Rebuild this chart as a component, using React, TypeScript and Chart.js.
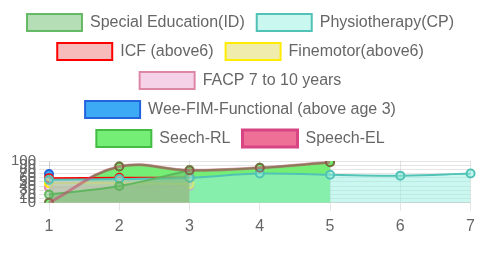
import React, { useEffect, useRef } from "react";
import { Chart, registerables } from "chart.js";

Chart.register(...registerables);

const categories = ["1", "2", "3", "4", "5", "6", "7"];
const specialEducation = [20, 40, 78];
const physiotherapy = [55, 57, 60, 70, 67, 65, 70];
const icf = [59, 60, 60];
const finemotor = [47, 47, 45];
const facp = [37, 38, 40];
const weeFim = [69];
const seechRL = [0, 87, 78, 84, 97];
const speechEL = [0, 87, 78, 84, 97];

const FONT = "Liberation Sans, Arial, sans-serif";

export default function App() {
  const ref = useRef<HTMLCanvasElement | null>(null);
  useEffect(() => {
    if (!ref.current) return;
    const mk = (label: string, data: number[], bg: string, border: string, fill: boolean | string, extra: any = {}) => ({
      label,
      data,
      backgroundColor: bg,
      borderColor: border,
      borderWidth: 2,
      pointRadius: 4,
      pointBorderWidth: 2,
      tension: 0.4,
      fill,
      ...extra,
    });
    const legendGap = {
      id: "legendGap",
      beforeInit(chart: any) {
        const orig = chart.legend.fit;
        chart.legend.fit = function () {
          this.maxWidth = Math.min(this.maxWidth, 465);
          orig.call(this);
          this.height += 4;
        };
      },
    };
    const chart = new Chart(ref.current, {
      type: "line",
      plugins: [legendGap],
      data: {
        labels: categories,
        datasets: [
          mk("Special Education(ID)", specialEducation, "rgba(110,190,110,0.5)", "rgba(90,180,90,0.9)", "origin"),
          mk("Physiotherapy(CP)", physiotherapy, "rgba(150,240,225,0.5)", "rgb(80,195,182)", "origin"),
          mk("ICF (above6)", icf, "rgba(240,120,120,0.5)", "rgb(255,0,0)", "origin"),
          mk("Finemotor(above6)", finemotor, "rgba(225,220,90,0.5)", "rgb(255,236,0)", "origin"),
          mk("FACP 7 to 10 years", facp, "rgba(235,165,210,0.5)", "rgb(220,135,165)", "origin"),
          mk("Wee-FIM-Functional (above age 3)", weeFim, "rgb(60,170,245)", "rgb(35,100,220)", "origin"),
          mk("Seech-RL", seechRL, "rgb(117,238,117)", "rgb(68,187,68)", "origin", { order: 1 }),
          mk("Speech-EL", speechEL, "rgb(238,112,150)", "rgba(200,70,110,0.55)", false, {
            order: -1,
            borderWidth: 3,
            pointBackgroundColor: "rgba(0,0,0,0)",
            pointBorderColor: "rgba(150,60,60,0.6)",
            legendBorder: "rgb(215,70,130)",
          }),
        ],
      },
      options: {
        animation: false,
        responsive: true,
        maintainAspectRatio: false,
        layout: { padding: { left: 0, top: 2, right: 0, bottom: 0 } },
        plugins: {
          legend: {
            maxHeight: 400,
            labels: {
              boxWidth: 55,
              boxHeight: 17,
              padding: 12,
              color: "#666",
              font: { size: 16, family: FONT },
              generateLabels: (c: any) => {
                const items = (Chart as any).defaults.plugins.legend.labels.generateLabels(c);
                items.forEach((it: any) => {
                  const ds: any = c.data.datasets[it.datasetIndex];
                  if (ds.legendBorder) it.strokeStyle = ds.legendBorder;
                });
                items.sort((a: any, b: any) => a.datasetIndex - b.datasetIndex);
                return items;
              },
            },
          },
          tooltip: { enabled: false },
        },
        scales: {
          x: {
            ticks: { color: "#666", padding: 6, font: { size: 16, family: FONT } },
            grid: { color: "rgba(0,0,0,0.1)" },
          },
          y: {
            min: 0,
            max: 100,
            afterFit: (s: any) => {
              s.width = 49;
            },
            ticks: {
              stepSize: 10,
              autoSkip: false,
              padding: 3,
              color: "#666",
              font: { size: 15, family: FONT },
            },
            grid: { color: "rgba(0,0,0,0.1)", tickLength: 10 },
          },
        },
      },
    });
    return () => chart.destroy();
  }, []);
  return (
    <div style={{ position: "absolute", left: 0, top: 0, width: 481, height: 242 }}>
      <canvas ref={ref} />
    </div>
  );
}
